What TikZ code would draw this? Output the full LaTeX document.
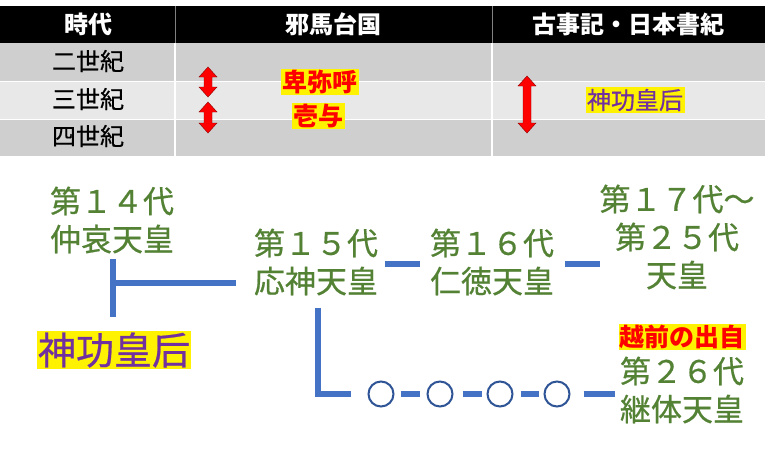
\documentclass[tikz,border=0pt]{standalone}
\usepackage{fontspec}
\setmainfont{Noto Sans CJK JP}
\newfontfamily\jpmed{Noto Sans CJK JP}[FakeBold=0.6]
\definecolor{tgreen}{HTML}{548235}
\definecolor{lblue}{HTML}{4472C4}
\definecolor{cblue}{HTML}{2F5597}
\definecolor{tpurple}{HTML}{7030A0}
\definecolor{rowdark}{HTML}{CFCFCF}
\definecolor{rowlight}{HTML}{E8E8E8}
\newcommand\redarrow[3]{\filldraw[fill=red,draw=red!55!black,line width=0.4pt] (#1,#2) -- (#1+9,#2+10) -- (#1+4,#2+10) -- (#1+4,#3-10) -- (#1+9,#3-10) -- (#1,#3) -- (#1-9,#3-10) -- (#1-4,#3-10) -- (#1-4,#2+10) -- (#1-9,#2+10) -- cycle;}
\tikzset{
  hdr/.style={text=white,font=\fontsize{24}{28}\selectfont\bfseries,inner sep=0pt},
  rowlbl/.style={text=black,font=\jpmed\fontsize{24}{28}\selectfont,inner sep=0pt},
  emp/.style={align=center,text=tgreen,font=\jpmed\fontsize{31}{38}\selectfont,inner sep=0pt},
  ylw/.style={fill=yellow,inner sep=1.5pt},
  bline/.style={draw=lblue,line width=6pt},
  circ/.style={circle,draw=cblue,line width=2pt,minimum size=25pt,inner sep=0pt}
}
\begin{document}
\begin{tikzpicture}[x=1pt,y=-1pt]
\useasboundingbox (0,0) rectangle (778,452);
\fill[white] (0,0) rectangle (778,452);
% table
\fill[black] (0,6) rectangle (765,43);
\fill[rowdark] (0,43) rectangle (765,81);
\fill[rowlight] (0,81) rectangle (765,119);
\fill[rowdark] (0,119) rectangle (765,156);
\draw[white,line width=1pt] (0,81) -- (765,81) (0,119) -- (765,119);
\draw[white,line width=1.2pt] (175,43) -- (175,156) (492,43) -- (492,156);
\draw[gray,line width=0.6pt] (175,6) -- (175,43) (492,6) -- (492,43);
\node[hdr] (h1) at (88,24) {時代};
\node[hdr] (h2) at (333,24) {邪馬台国};
\node[hdr] (h3) at (628,24) {古事記・日本書紀};
\node[rowlbl] (r1) at (88,61) {二世紀};
\node[rowlbl] (r2) at (88,99) {三世紀};
\node[rowlbl] (r3) at (88,136) {四世紀};
\redarrow{208}{67}{97}
\redarrow{208}{102}{133}
\redarrow{527}{76}{133}
\node[ylw,text=red,font=\fontsize{25}{28}\selectfont\bfseries] (himiko) at (320,82) {卑弥呼};
\node[ylw,text=red,font=\fontsize{25}{28}\selectfont\bfseries] (iyo) at (318,116) {壱与};
\node[ylw,text=tpurple,font=\jpmed\fontsize{24}{28}\selectfont] (jingut) at (635,100) {神功皇后};
% genealogy
\node[emp] (k14) at (112,220) {第１４代\\仲哀天皇};
\node[emp] (ojin) at (316,262) {第１５代\\応神天皇};
\node[emp] (k16) at (492,262) {第１６代\\仁徳天皇};
\node[emp] (k17) at (677,237) {第１７代～\\第２５代\\天皇};
\node[emp] (k26) at (682,390) {第２６代\\継体天皇};
\node[ylw,text=red,font=\fontsize{25}{30}\selectfont\bfseries,inner sep=1pt] (etsu) at (682,337) {越前の出自};
\node[ylw,text=tpurple,font=\jpmed\fontsize{38}{44}\selectfont,inner sep=1pt] (jingu) at (114,350) {神功皇后};
% T connector
\coordinate (t1) at (113,259);
\coordinate (t2) at (113,317);
\coordinate (t3) at (236,283);
\draw[bline] (t1) -- (t2);
\draw[bline] (t1 |- t3) -- (t3);
% dashes top row
\coordinate (d1a) at (385,264);
\coordinate (d1b) at (420,264);
\coordinate (d2a) at (565,264);
\coordinate (d2b) at (600,264);
\draw[bline] (d1a) -- (d1b);
\draw[bline] (d2a) -- (d2b);
% L connector and circles
\node[circ] (c1) at (381,394) {};
\node[circ] (c2) at (440,394) {};
\node[circ] (c3) at (500,394) {};
\node[circ] (c4) at (557,394) {};
\coordinate (l1) at (318,308);
\coordinate (l2) at (351,394);
\draw[bline] (l1) |- (l2);
\draw[bline,shorten <=6pt,shorten >=7pt] (c1) -- (c2);
\draw[bline,shorten <=9pt,shorten >=5pt] (c2) -- (c3);
\draw[bline,shorten <=7pt,shorten >=5pt] (c3) -- (c4);
\coordinate (e26) at (615,394);
\draw[bline,shorten <=13pt] (c4) -- (e26);
\end{tikzpicture}
\end{document}
